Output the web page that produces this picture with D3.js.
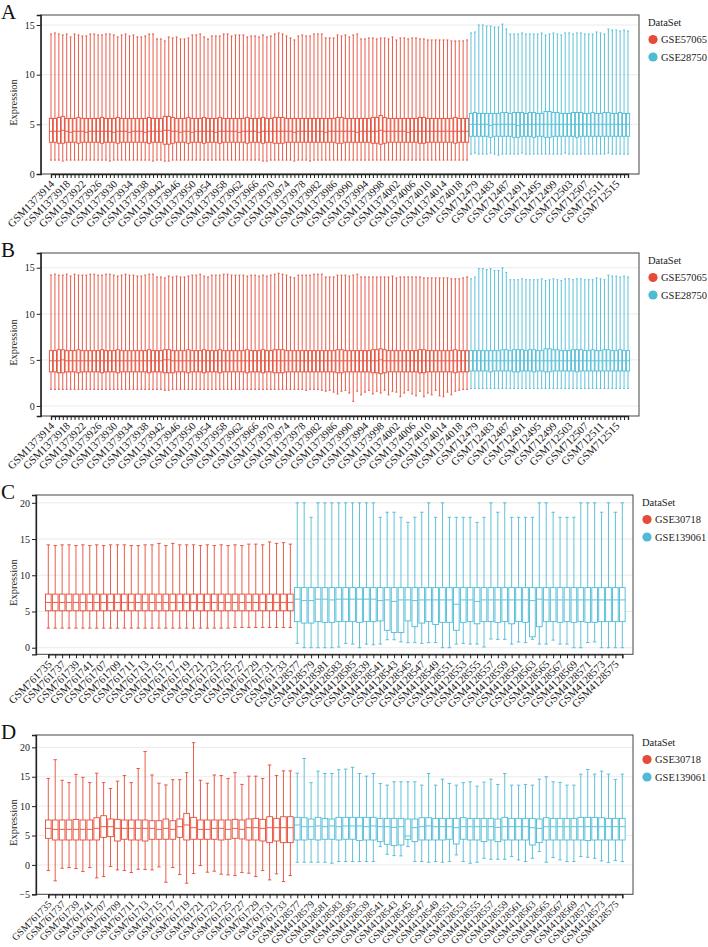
<!DOCTYPE html>
<html>
<head>
<meta charset="utf-8">
<script src="https://cdn.jsdelivr.net/npm/d3@7"></script>
<style>
  body { margin: 0; background: #fff; }
  svg { display: block; font-family: "Liberation Serif", "Times New Roman", serif; }
  svg text { font-family: "Liberation Serif", "Times New Roman", serif; }
</style>
</head>
<body>
<svg id="chart" width="708" height="947"></svg>
<script>
// consecutive GSM accessions
function gsmRun(start, n) { return d3.range(n).map(k => 'GSM' + (start + k)); }

const idsAB = gsmRun(1373914, 107).concat(gsmRun(712478, 41));
const idsCD = gsmRun(761735, 8).concat(gsmRun(761707, 28), gsmRun(4128577, 10), gsmRun(4128539, 38));
const groupSizesAB = [107, 41];
const groupSizesCD = [36, 48];
const setsAB = ['GSE57065', 'GSE28750'];
const setsCD = ['GSE30718', 'GSE139061'];
const setColors = ['#E64B35', '#4DBBD5'];
const ticksAB = [0, 5, 10, 15];
const ticksC = [0, 5, 10, 15, 20];
const ticksD = [-5, 0, 5, 10, 15, 20];

// ---- panel A (107 GSE57065 + 41 GSE28750)
const hiA = [14.1,14.2,14.1,14.0,14.1,13.8,14.1,14.0,13.9,13.9,14.1,14.1,14.0,14.0,14.1,14.1,14.0,13.8,14.0,14.1,
  13.9,14.0,13.8,13.8,13.9,14.1,14.1,13.6,13.6,13.4,13.8,13.7,13.8,13.6,13.6,13.7,14.0,14.0,14.1,13.8,
  13.6,13.9,13.9,13.9,14.1,14.1,13.9,14.0,14.0,14.0,13.8,13.9,13.9,13.8,14.0,13.8,13.9,14.1,14.2,14.1,
  13.9,13.7,13.5,13.9,14.0,13.9,13.9,14.1,14.1,14.1,13.7,13.7,13.7,14.0,13.9,14.0,13.8,14.0,14.1,13.6,
  13.6,13.7,13.7,13.6,13.7,13.7,13.6,13.8,13.5,13.7,13.7,13.6,13.7,13.7,13.6,13.6,13.5,13.5,13.5,13.5,
  13.5,13.5,13.4,13.4,13.4,13.4,13.5,
  14.2,14.3,15.0,15.0,14.9,14.9,14.8,14.8,15.1,14.6,14.1,14.1,14.1,14.2,14.1,14.1,14.1,14.1,14.2,14.0,
  14.1,14.2,14.1,14.0,14.2,14.2,14.1,14.2,14.2,14.1,14.1,14.1,14.3,14.2,14.1,14.6,14.5,14.5,14.4,14.5,14.4];
const q3A = [5.6,5.6,5.7,5.8,5.6,5.6,5.6,5.7,5.6,5.6,5.6,5.6,5.6,5.7,5.6,5.6,5.6,5.7,5.6,5.6,
  5.6,5.6,5.6,5.6,5.6,5.7,5.6,5.6,5.6,5.8,5.8,5.7,5.6,5.6,5.6,5.7,5.6,5.6,5.6,5.7,
  5.6,5.6,5.6,5.7,5.6,5.6,5.6,5.6,5.6,5.6,5.7,5.6,5.6,5.6,5.7,5.6,5.6,5.7,5.7,5.7,
  5.6,5.6,5.6,5.6,5.6,5.6,5.6,5.6,5.6,5.6,5.6,5.6,5.6,5.7,5.7,5.6,5.6,5.6,5.6,5.6,
  5.6,5.6,5.7,5.7,5.9,5.7,5.6,5.6,5.6,5.6,5.6,5.6,5.6,5.6,5.7,5.7,5.6,5.6,5.6,5.6,
  5.6,5.6,5.6,5.7,5.6,5.6,5.6,
  6.1,6.2,6.1,6.1,6.1,6.1,6.1,6.1,6.2,6.2,6.1,6.2,6.2,6.2,6.1,6.2,6.2,6.1,6.1,6.3,
  6.3,6.2,6.2,6.1,6.1,6.1,6.2,6.2,6.2,6.1,6.1,6.2,6.1,6.1,6.2,6.2,6.1,6.1,6.2,6.1,6.1];
const medA = [4.3,4.3,4.3,4.4,4.3,4.2,4.3,4.3,4.3,4.2,4.3,4.3,4.3,4.3,4.3,4.3,4.2,4.3,4.3,4.3,
  4.2,4.3,4.3,4.3,4.2,4.3,4.3,4.3,4.3,4.4,4.4,4.3,4.3,4.2,4.3,4.3,4.2,4.3,4.3,4.3,
  4.3,4.3,4.2,4.3,4.3,4.3,4.3,4.3,4.2,4.3,4.3,4.3,4.3,4.2,4.3,4.3,4.3,4.3,4.3,4.3,
  4.3,4.3,4.2,4.3,4.3,4.3,4.3,4.3,4.3,4.3,4.2,4.3,4.3,4.3,4.3,4.3,4.3,4.3,4.2,4.3,
  4.3,4.3,4.3,4.3,4.4,4.3,4.3,4.3,4.3,4.3,4.3,4.2,4.3,4.3,4.3,4.3,4.3,4.3,4.3,4.3,
  4.3,4.3,4.3,4.3,4.3,4.3,4.3,
  5.0,5.0,5.0,5.0,5.0,4.9,5.0,5.0,5.0,5.0,5.0,5.0,4.9,5.0,5.0,5.0,5.0,5.0,5.0,5.0,
  5.0,5.0,5.0,5.0,5.0,5.0,5.0,5.0,5.0,5.0,5.0,5.0,5.0,5.0,5.0,5.0,5.0,5.0,5.0,5.0,5.0];
const q1A = [3.2,3.2,3.1,3.1,3.2,3.2,3.2,3.1,3.2,3.2,3.2,3.2,3.2,3.1,3.2,3.2,3.2,3.1,3.2,3.2,
  3.2,3.2,3.2,3.2,3.2,3.1,3.2,3.2,3.2,3.0,3.0,3.1,3.2,3.2,3.2,3.1,3.2,3.2,3.2,3.1,
  3.2,3.2,3.2,3.1,3.2,3.2,3.2,3.2,3.2,3.2,3.1,3.2,3.2,3.2,3.1,3.2,3.2,3.1,3.1,3.1,
  3.2,3.2,3.2,3.2,3.2,3.2,3.2,3.2,3.2,3.2,3.2,3.2,3.2,3.1,3.1,3.2,3.2,3.2,3.2,3.2,
  3.2,3.2,3.1,3.1,3.0,3.1,3.2,3.2,3.2,3.2,3.2,3.2,3.2,3.2,3.1,3.1,3.2,3.2,3.2,3.2,
  3.2,3.2,3.2,3.1,3.2,3.2,3.2,
  3.8,3.8,3.8,3.8,3.8,3.7,3.8,3.8,3.8,3.8,3.8,3.7,3.7,3.8,3.8,3.8,3.7,3.8,3.8,3.7,
  3.7,3.8,3.8,3.8,3.8,3.8,3.8,3.7,3.8,3.8,3.8,3.8,3.8,3.8,3.8,3.8,3.8,3.8,3.8,3.8,3.8];
const loA = [1.4,1.4,1.4,1.3,1.4,1.4,1.4,1.4,1.4,1.4,1.4,1.4,1.4,1.4,1.4,1.3,1.4,1.4,1.4,1.4,
  1.4,1.4,1.4,1.4,1.4,1.4,1.3,1.4,1.4,1.3,1.3,1.4,1.4,1.4,1.4,1.4,1.4,1.4,1.4,1.4,
  1.4,1.4,1.4,1.4,1.4,1.4,1.4,1.4,1.4,1.4,1.4,1.4,1.4,1.4,1.3,1.3,1.4,1.4,1.4,1.4,
  1.4,1.4,1.3,1.4,1.4,1.4,1.3,1.4,1.4,1.4,1.4,1.4,1.4,1.4,1.4,1.4,1.4,1.4,1.4,1.4,
  1.4,1.4,1.4,1.4,1.4,1.4,1.4,1.4,1.4,1.4,1.4,1.4,1.4,1.4,1.4,1.4,1.4,1.4,1.4,1.4,
  1.4,1.4,1.4,1.4,1.4,1.4,1.4,
  2.0,2.1,2.0,2.0,2.0,2.1,2.0,1.9,2.0,2.0,2.0,2.0,2.0,2.1,2.0,2.0,2.0,2.0,2.0,2.0,
  2.0,2.0,2.0,2.0,2.1,2.0,2.0,2.0,2.0,2.0,2.0,2.0,2.0,2.0,2.0,2.1,2.0,2.0,2.0,2.0,2.0];

// ---- panel B (same samples after normalisation)
const hiB = [14.2,14.3,14.2,14.2,14.3,14.1,14.3,14.2,14.2,14.2,14.3,14.3,14.2,14.2,14.3,14.3,14.2,14.1,14.2,14.3,
  14.2,14.2,14.1,14.1,14.2,14.3,14.3,14.0,14.0,13.9,14.1,14.0,14.1,14.0,14.0,14.1,14.2,14.2,14.3,14.1,
  14.0,14.2,14.2,14.2,14.3,14.3,14.2,14.2,14.2,14.2,14.1,14.2,14.2,14.1,14.2,14.1,14.2,14.3,14.4,14.3,
  14.2,14.0,13.9,14.2,14.2,14.2,14.2,14.3,14.3,14.3,14.0,14.0,14.0,14.2,14.2,14.2,14.1,14.2,14.3,14.0,
  14.0,14.0,14.0,14.0,14.0,14.0,14.0,14.1,13.9,14.0,14.0,14.0,14.0,14.0,14.0,13.9,13.9,13.9,13.9,13.9,
  13.9,13.9,13.8,13.8,13.8,13.9,14.0,
  13.8,14.0,14.9,14.9,14.8,14.9,14.7,14.7,15.0,14.5,13.7,13.7,13.7,13.8,13.7,13.7,13.7,13.7,13.8,13.6,
  13.7,13.8,13.7,13.6,13.8,13.8,13.7,13.8,13.8,13.7,13.7,13.7,13.9,13.8,13.7,14.2,14.1,14.1,14.0,14.1,14.0];
const q3B = [6.0,6.0,6.1,6.1,6.0,6.0,6.0,6.1,6.0,6.0,6.0,6.0,6.0,6.1,6.0,6.0,6.0,6.1,6.0,6.0,
  6.0,6.0,6.0,6.0,6.0,6.1,6.0,6.0,6.0,6.1,6.1,6.0,6.0,6.0,6.0,6.1,6.0,6.0,6.0,6.1,
  6.0,6.0,6.0,6.1,6.0,6.0,6.0,6.0,6.0,6.0,6.1,6.0,6.0,6.0,6.1,6.0,6.0,6.1,6.1,6.1,
  6.0,6.0,6.0,6.0,6.0,6.0,6.0,6.0,6.0,6.0,6.0,6.0,6.0,6.1,6.1,6.0,6.0,6.0,6.0,6.0,
  6.0,6.0,6.1,6.1,6.2,6.1,6.0,6.0,6.0,6.0,6.0,6.0,6.0,6.0,6.1,6.1,6.0,6.0,6.0,6.0,
  6.0,6.0,6.0,6.1,6.0,6.0,6.0,
  6.0,6.0,6.0,6.0,6.0,6.0,6.0,6.0,6.1,6.1,6.0,6.1,6.1,6.1,6.0,6.1,6.1,6.0,6.0,6.2,
  6.2,6.1,6.1,6.0,6.0,6.0,6.1,6.1,6.1,6.0,6.0,6.1,6.0,6.0,6.1,6.1,6.0,6.0,6.1,6.0,6.0];
const medB = [4.9,4.9,4.9,5.0,4.9,4.9,4.9,4.9,4.9,4.9,4.9,4.9,4.9,4.9,4.9,4.9,4.9,4.9,4.9,4.9,
  4.9,4.9,4.9,4.9,4.9,4.9,4.9,4.9,4.9,5.0,5.0,4.9,4.9,4.9,4.9,4.9,4.9,4.9,4.9,4.9,
  4.9,4.9,4.9,4.9,4.9,4.9,4.9,4.9,4.9,4.9,4.9,4.9,4.9,4.9,4.9,4.9,4.9,4.9,4.9,4.9,
  4.9,4.9,4.9,4.9,4.9,4.9,4.9,4.9,4.9,4.9,4.9,4.9,4.9,4.9,4.9,4.9,4.9,4.9,4.9,4.9,
  4.9,4.9,4.9,4.9,5.0,4.9,4.9,4.9,4.9,4.9,4.9,4.9,4.9,4.9,4.9,4.9,4.9,4.9,4.9,4.9,
  4.9,4.9,4.9,4.9,4.9,4.9,4.9,
  4.9,4.9,4.9,4.9,4.9,4.9,4.9,4.9,4.9,4.9,4.9,4.9,4.9,4.9,4.9,4.9,4.9,4.9,4.9,4.9,
  4.9,4.9,4.9,4.9,4.9,4.9,4.9,4.9,4.9,4.9,4.9,4.9,4.9,4.9,4.9,4.9,4.9,4.9,4.9,4.9,4.9];
const q1B = [3.7,3.7,3.6,3.6,3.7,3.7,3.7,3.6,3.7,3.7,3.7,3.7,3.7,3.6,3.7,3.7,3.7,3.6,3.7,3.7,
  3.7,3.7,3.7,3.7,3.7,3.6,3.7,3.7,3.7,3.6,3.6,3.6,3.7,3.7,3.7,3.6,3.7,3.7,3.7,3.6,
  3.7,3.7,3.7,3.6,3.7,3.7,3.7,3.7,3.7,3.7,3.6,3.7,3.7,3.7,3.6,3.7,3.7,3.6,3.6,3.6,
  3.7,3.7,3.7,3.7,3.7,3.7,3.7,3.7,3.7,3.7,3.7,3.7,3.7,3.6,3.6,3.7,3.7,3.7,3.7,3.7,
  3.7,3.7,3.6,3.6,3.5,3.6,3.7,3.7,3.7,3.7,3.7,3.7,3.7,3.7,3.6,3.6,3.7,3.7,3.7,3.7,
  3.7,3.7,3.7,3.6,3.7,3.7,3.7,
  3.8,3.8,3.8,3.8,3.8,3.7,3.8,3.8,3.8,3.8,3.8,3.7,3.7,3.8,3.8,3.8,3.7,3.8,3.8,3.7,
  3.7,3.8,3.8,3.8,3.8,3.8,3.8,3.7,3.8,3.8,3.8,3.8,3.8,3.8,3.8,3.8,3.8,3.8,3.8,3.8,3.8];
const loB = [1.8,1.8,1.8,1.8,1.8,1.8,1.8,1.8,1.8,1.8,1.8,1.8,1.8,1.8,1.8,1.8,1.8,1.8,1.8,1.8,
  1.8,1.8,1.8,1.8,1.8,1.8,1.8,1.8,1.8,1.7,1.7,1.8,1.8,1.8,1.8,1.8,1.8,1.8,1.8,1.8,
  1.8,1.8,1.8,1.8,1.8,1.8,1.8,1.8,1.8,1.8,1.8,1.8,1.8,1.8,1.8,1.8,1.8,1.8,1.8,1.8,
  1.8,1.8,1.8,1.8,1.8,1.7,1.8,1.8,1.8,1.7,1.6,1.7,1.5,1.3,1.6,1.7,1.4,0.5,1.6,1.2,
  1.5,1.7,1.3,1.6,1.4,1.7,1.2,1.6,1.5,1.0,1.4,1.7,1.3,1.1,1.6,1.0,1.4,1.2,1.7,1.1,
  1.0,1.5,1.2,1.6,1.7,1.8,1.8,
  1.9,1.9,1.9,1.9,1.9,1.9,1.9,1.9,1.9,1.9,1.9,1.9,1.9,1.9,1.9,1.9,1.9,1.9,1.9,1.9,
  1.9,1.9,1.9,1.9,1.9,1.9,1.9,1.9,1.9,1.9,1.9,1.9,1.9,1.9,1.9,1.9,1.9,1.9,1.9,1.9,1.9];

// ---- panel C (36 GSE30718 + 48 GSE139061)
const hiC = [14.2,14.1,14.2,14.2,14.1,14.2,14.1,14.2,14.1,14.2,14.2,14.2,14.1,14.1,14.2,14.2,14.4,14.1,14.4,14.2,
  14.2,14.2,14.1,14.2,14.1,14.2,14.1,14.2,14.1,14.3,14.3,14.2,14.6,14.4,14.5,14.3,
  20.0,20.0,18.0,20.0,20.0,20.0,20.0,20.0,20.0,20.0,20.0,20.0,18.0,18.7,18.7,18.0,17.3,18.0,18.7,20.0,
  18.0,20.0,18.0,18.0,18.0,18.0,17.3,18.0,20.0,18.7,20.0,18.0,18.0,18.0,18.0,20.0,20.0,18.7,18.0,18.0,
  18.0,20.0,20.0,20.0,18.7,20.0,18.7,20.0];
const q3C = [7.4,7.4,7.4,7.4,7.4,7.4,7.4,7.4,7.4,7.4,7.4,7.4,7.4,7.4,7.4,7.4,7.4,7.4,7.4,7.4,
  7.4,7.4,7.4,7.4,7.4,7.4,7.4,7.4,7.4,7.4,7.4,7.4,7.4,7.4,7.4,7.4,
  8.3,8.3,8.3,8.3,8.3,8.3,8.3,8.3,8.3,8.3,8.3,8.3,8.3,8.3,8.3,8.3,8.3,8.3,8.3,8.3,
  8.3,8.3,8.3,8.3,8.3,8.3,8.3,8.3,8.3,8.3,8.3,8.3,8.3,8.3,8.3,8.3,8.3,8.3,8.3,8.3,
  8.3,8.3,8.3,8.3,8.3,8.3,8.3,8.3];
const medC = [6.25,6.25,6.25,6.25,6.25,6.25,6.25,6.25,6.25,6.25,6.25,6.25,6.25,6.25,6.25,6.25,6.25,6.25,6.25,6.25,
  6.25,6.25,6.25,6.25,6.25,6.25,6.25,6.25,6.25,6.25,6.25,6.25,6.25,6.25,6.25,6.25,
  6.7,6.5,6.5,6.7,6.7,6.6,6.7,6.7,6.7,6.7,6.7,6.7,6.5,6.6,6.4,6.6,6.6,6.5,6.6,6.6,
  6.6,6.6,6.6,6.0,6.6,6.6,6.4,6.6,6.6,6.6,6.6,6.6,6.6,6.6,6.5,6.7,6.6,6.6,6.6,6.6,
  6.6,6.6,6.6,6.6,6.6,6.6,6.6,6.6];
const q1C = [5.1,5.1,5.1,5.1,5.1,5.1,5.1,5.1,5.1,5.1,5.1,5.1,5.1,5.1,5.1,5.1,5.1,5.1,5.1,5.1,
  5.1,5.1,5.1,5.1,5.1,5.1,5.1,5.1,5.1,5.1,5.1,5.1,5.1,5.1,5.1,5.1,
  3.6,3.4,3.4,3.6,3.5,3.5,3.6,3.6,3.6,3.5,3.6,3.6,3.7,2.4,2.1,2.1,3.7,2.9,3.4,3.6,
  3.2,3.5,3.5,2.4,3.5,3.6,3.3,3.6,3.6,3.5,3.6,3.3,3.6,3.5,1.5,2.9,3.6,3.6,3.5,3.6,
  3.5,3.6,3.5,3.5,3.6,3.6,3.6,3.6];
const loC = [2.7,2.7,2.7,2.7,2.7,2.7,2.7,2.7,2.7,2.7,2.7,2.7,2.7,2.7,2.7,2.7,2.7,2.7,2.7,2.7,
  2.7,2.7,2.7,2.7,2.7,2.7,2.7,2.8,2.8,2.8,2.8,2.8,2.8,2.8,2.8,2.8,
  0.6,0.0,0.0,0.0,0.0,0.0,0.1,0.6,0.5,0.0,0.5,0.4,0.5,1.1,1.1,0.8,0.7,0.7,0.6,0.7,
  0.7,0.0,0.0,0.5,0.6,0.5,0.5,0.1,1.2,1.15,1.15,0.5,0.8,0.7,1.15,0.5,0.5,1.05,0.5,0.5,
  0.0,0.0,0.7,0.8,0.0,0.0,0.0,0.0];

// ---- panel D
const hiD = [14.7,17.9,14.4,14.0,15.4,14.9,14.0,15.6,14.0,13.0,14.25,15.2,14.0,16.4,19.3,15.3,13.9,13.6,14.5,14.5,
  15.7,20.8,14.4,13.9,15.3,15.2,14.7,15.7,13.7,15.1,15.1,14.7,17.0,15.2,16.0,16.0,
  15.6,18.1,14.0,15.95,15.55,15.55,16.2,16.3,16.6,15.55,15.1,15.55,13.86,13.57,14.14,14.14,14.14,14.14,13.57,15.55,
  13.57,14.59,13.86,13.57,14.0,14.14,13.4,14.08,14.59,13.69,15.55,13.57,13.57,13.69,13.57,14.59,14.99,14.14,14.03,13.57,
  13.57,15.44,16.23,15.44,15.95,15.44,14.54,15.44];
const q3D = [7.64,7.64,7.64,7.64,7.75,7.64,7.64,8.03,8.37,7.81,7.75,7.64,7.64,7.64,7.64,7.52,7.52,7.81,7.52,7.81,
  8.77,8.09,7.64,7.64,7.64,7.64,7.64,7.75,7.64,7.81,7.92,7.75,8.2,7.92,8.2,8.2,
  8.09,8.03,7.81,8.09,7.92,7.81,8.09,8.09,8.09,8.09,8.09,8.09,7.92,7.92,7.92,7.92,7.81,7.81,8.03,8.03,
  7.92,7.92,7.92,7.92,8.03,7.92,7.92,7.92,7.92,7.81,8.09,7.92,7.92,7.92,7.92,7.81,8.03,7.92,7.92,7.92,
  7.92,8.09,8.09,8.09,8.03,7.92,7.92,7.92];
const medD = [6.22,6.05,6.05,6.05,6.05,6.05,6.05,6.22,6.5,6.5,6.22,6.22,6.22,6.22,6.22,6.22,6.05,6.22,6.05,6.5,
  6.79,6.33,6.05,6.05,6.22,6.22,6.05,6.22,6.05,6.33,6.33,6.22,6.33,6.33,6.33,6.33,
  6.79,6.5,6.5,6.62,6.5,6.62,6.5,6.62,6.62,6.62,6.5,6.62,6.5,6.5,6.39,6.5,4.92,6.33,6.5,6.62,
  6.5,6.5,6.5,6.33,6.5,6.5,6.5,6.5,6.5,6.39,6.5,6.5,6.5,6.5,6.33,6.22,6.5,6.5,6.5,6.5,
  6.5,6.5,6.5,6.5,6.5,6.5,6.5,6.5];
const q1D = [4.52,4.24,4.24,4.24,4.24,4.24,4.24,4.24,4.69,4.81,4.07,4.36,4.24,4.24,4.07,4.36,4.36,4.36,4.36,4.69,
  4.24,4.36,4.36,4.36,4.36,4.24,4.36,4.52,4.41,4.24,4.24,4.07,3.79,4.07,3.79,3.79,
  4.24,4.24,4.36,4.24,4.36,4.36,4.24,4.36,4.36,4.13,4.24,4.24,3.96,3.51,3.28,3.39,4.36,3.96,4.24,4.24,
  4.24,4.24,4.36,3.56,4.36,4.24,4.24,3.96,4.24,3.96,4.24,4.24,4.24,4.24,3.39,3.79,4.24,4.24,4.24,4.24,
  4.24,4.24,4.13,4.24,4.24,4.24,4.24,4.24];
const loD = [-0.96,-2.71,-0.57,-0.45,-0.62,-1.13,-0.45,-2.21,-1.98,-0.28,-0.85,-0.96,-1.3,-0.74,-0.79,-0.85,-0.34,-2.94,-0.45,-1.64,
  -3.11,-1.47,-0.11,-1.24,-1.07,-1.58,-1.7,-1.81,-1.3,-1.41,-1.98,-0.96,-2.55,-1.53,-2.83,-1.81,
  0.45,0.45,0.45,0.45,0.45,0.28,0.57,0.57,0.57,0.57,0.57,0.57,3.11,1.81,1.58,1.53,3.11,0.57,0.57,0.45,
  0.57,0.45,0.57,1.7,0.57,0.28,0.45,1.13,0.96,0.96,0.96,1.41,0.85,0.57,1.13,2.26,0.45,1.24,0.85,0.57,
  0.57,1.41,1.3,1.13,0.68,0.4,0.74,0.57];

const panels = [
  { letter: 'A', top: 15, bottom: 174, left: 40.7, right: 639, first: 51, last: 628, yDomain: [0, 16.01], yTicks: ticksAB,
    ids: idsAB, sizes: groupSizesAB, sets: setsAB, labelEvery: 4, labelSize: 10.8, stats: [loA, q1A, medA, q3A, hiA] },
  { letter: 'B', top: 253, bottom: 416, left: 40.7, right: 639, first: 51, last: 628, yDomain: [-1.09, 16.6], yTicks: ticksAB,
    ids: idsAB, sizes: groupSizesAB, sets: setsAB, labelEvery: 4, labelSize: 10.8, stats: [loB, q1B, medB, q3B, hiB] },
  { letter: 'C', top: 495, bottom: 654.3, left: 36, right: 633, first: 48.3, last: 622.3, yDomain: [-0.91, 21.08], yTicks: ticksC,
    ids: idsCD, sizes: groupSizesCD, sets: setsCD, labelEvery: 2, labelSize: 10.8, stats: [loC, q1C, medC, q3C, hiC] },
  { letter: 'D', top: 735, bottom: 894.3, left: 36, right: 633, first: 48.3, last: 622.3, yDomain: [-5, 22.1], yTicks: ticksD,
    ids: idsCD, sizes: groupSizesCD, sets: setsCD, labelEvery: 2, labelSize: 10, stats: [loD, q1D, medD, q3D, hiD] }
];

const svg = d3.select('#chart');

function drawPanel(p) {
  const g = svg.append('g').attr('class', 'panel');
  const x = d3.scalePoint().domain(p.ids).range([p.first, p.last]);
  const y = d3.scaleLinear().domain(p.yDomain).range([p.bottom, p.top]);
  const step = x.step();
  const boxW = step * 0.82;
  const capW = step * 0.5;
  const colorOf = i => setColors[i < p.sizes[0] ? 0 : 1];

  // grid
  g.selectAll('.grid').data(p.yTicks).join('line')
    .attr('x1', p.left).attr('x2', p.right)
    .attr('y1', d => y(d)).attr('y2', d => y(d))
    .attr('stroke', '#e6e6e6').attr('stroke-width', 0.8);

  // boxes
  const [lo, q1, med, q3, hi] = p.stats;
  const rows = p.ids.map((id, i) => ({ id, i, lo: lo[i], q1: q1[i], med: med[i], q3: q3[i], hi: hi[i] }));
  const box = g.selectAll('.box').data(rows).join('g').attr('class', 'box')
    .attr('stroke', d => colorOf(d.i)).attr('stroke-width', 0.9).attr('fill', 'none');
  box.append('line')
    .attr('x1', d => x(d.id)).attr('x2', d => x(d.id))
    .attr('y1', d => y(d.lo)).attr('y2', d => y(d.hi));
  box.append('line')
    .attr('x1', d => x(d.id) - capW / 2).attr('x2', d => x(d.id) + capW / 2)
    .attr('y1', d => y(d.hi)).attr('y2', d => y(d.hi));
  box.append('line')
    .attr('x1', d => x(d.id) - capW / 2).attr('x2', d => x(d.id) + capW / 2)
    .attr('y1', d => y(d.lo)).attr('y2', d => y(d.lo));
  box.append('rect')
    .attr('x', d => x(d.id) - boxW / 2).attr('width', boxW)
    .attr('y', d => y(d.q3)).attr('height', d => y(d.q1) - y(d.q3))
    .attr('fill', '#fff');
  box.append('line')
    .attr('x1', d => x(d.id) - boxW / 2).attr('x2', d => x(d.id) + boxW / 2)
    .attr('y1', d => y(d.med)).attr('y2', d => y(d.med));

  // frame
  g.append('rect')
    .attr('x', p.left).attr('y', p.top)
    .attr('width', p.right - p.left).attr('height', p.bottom - p.top)
    .attr('fill', 'none').attr('stroke', '#444').attr('stroke-width', 1);

  // y axis
  const yAxis = g.append('g').attr('transform', `translate(${p.left},0)`)
    .call(d3.axisLeft(y).tickValues(p.yTicks).tickSize(4).tickPadding(2).tickFormat(d => d < 0 ? '\u2212' + Math.abs(d) : d));
  yAxis.attr('font-family', null).attr('font-size', null);
  yAxis.select('.domain').attr('stroke', '#222').attr('stroke-width', 1.3);
  yAxis.selectAll('text').attr('font-size', 10).attr('fill', '#222');
  yAxis.selectAll('line').attr('stroke', '#222');

  // x axis
  const xAxis = g.append('g').attr('transform', `translate(0,${p.bottom})`)
    .call(d3.axisBottom(x).tickSize(4).tickFormat((d, i) => i % p.labelEvery === 0 ? d : ''));
  xAxis.attr('font-family', null).attr('font-size', null);
  xAxis.select('.domain').attr('stroke', '#222').attr('stroke-width', 1.3);
  xAxis.selectAll('line').attr('stroke', '#222');
  xAxis.selectAll('text')
    .attr('font-size', p.labelSize).attr('fill', '#222')
    .attr('text-anchor', 'end')
    .attr('x', 0).attr('y', 0).attr('dy', '0.35em')
    .attr('transform', 'translate(1,8) rotate(-45)');

  // axis title
  g.append('text')
    .attr('transform', `translate(13,${(p.top + p.bottom) / 2 + 8}) rotate(-90)`)
    .attr('text-anchor', 'middle').attr('dy', '0.35em')
    .attr('font-size', 10.5).attr('fill', '#222')
    .text('Expression');

  // panel letter
  g.append('text')
    .attr('x', 1).attr('y', p.top + 4)
    .attr('font-size', 21).attr('fill', '#111')
    .text(p.letter);

  // legend
  const lg = g.append('g').attr('transform', `translate(${p.right + 9},${p.top})`);
  lg.append('text').attr('x', 0).attr('y', 11).attr('font-size', 10.5).attr('fill', '#222').text('DataSet');
  const item = lg.selectAll('.item').data(p.sets).join('g')
    .attr('transform', (d, i) => `translate(0,${24.5 + i * 17.5})`);
  item.append('circle').attr('cx', 5).attr('cy', 0).attr('r', 4.6).attr('fill', (d, i) => setColors[i]);
  item.append('text').attr('x', 13).attr('y', 0).attr('dy', '0.35em')
    .attr('font-size', 10.5).attr('fill', '#222').text(d => d);
}

panels.forEach(drawPanel);
</script>
</body>
</html>
